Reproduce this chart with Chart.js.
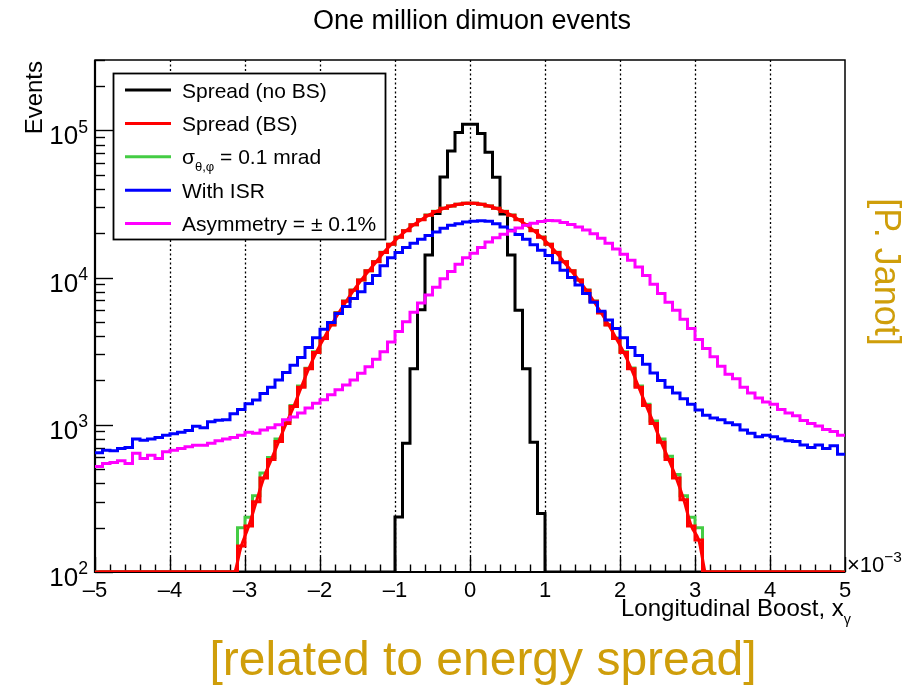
<!DOCTYPE html>
<html><head><meta charset="utf-8">
<script src="https://cdn.jsdelivr.net/npm/chart.js@4"></script>
<style>html,body{margin:0;padding:0;background:#fff;}canvas{display:block;}</style>
</head><body>
<canvas id="c" width="910" height="685"></canvas>
<script>
// ---- categories: histogram bins (low edges), ×10^-3 ----
const binLowEdges = [
 -5,-4.9,-4.8,-4.7,-4.6,-4.5,-4.4,-4.3,-4.2,-4.1,
 -4,-3.9,-3.8,-3.7,-3.6,-3.5,-3.4,-3.3,-3.2,-3.1,
 -3,-2.9,-2.8,-2.7,-2.6,-2.5,-2.4,-2.3,-2.2,-2.1,
 -2,-1.9,-1.8,-1.7,-1.6,-1.5,-1.4,-1.3,-1.2,-1.1,
 -1,-0.9,-0.8,-0.7,-0.6,-0.5,-0.4,-0.3,-0.2,-0.1,
 0,0.1,0.2,0.3,0.4,0.5,0.6,0.7,0.8,0.9,
 1,1.1,1.2,1.3,1.4,1.5,1.6,1.7,1.8,1.9,
 2,2.1,2.2,2.3,2.4,2.5,2.6,2.7,2.8,2.9,
 3,3.1,3.2,3.3,3.4,3.5,3.6,3.7,3.8,3.9,
 4,4.1,4.2,4.3,4.4,4.5,4.6,4.7,4.8,4.9];
const binWidth = 0.1;
const xRange = [-5, 5];
const yRange = [100, 300000];

// ---- series (events per bin) ----
const spreadNoBS = [
 0,0,0,0,0,0,0,0,0,0,
 0,0,0,0,0,0,0,0,0,0,
 0,0,0,0,0,0,0,0,0,0,
 0,0,0,0,0,0,0,0,0,0,
 236,750,2400,6050,14200,27200,48100,72300,96400,110000,
 110000,95000,71000,48000,27000,14200,6000,2400,760,250,
 0,0,0,0,0,0,0,0,0,0,
 0,0,0,0,0,0,0,0,0,0,
 0,0,0,0,0,0,0,0,0,0,
 0,0,0,0,0,0,0,0,0,0];
const spreadBS = [
 0,0,0,0,0,0,0,0,0,0,
 0,0,0,0,0,0,0,0,0,150,
 205,300,435,580,770,1020,1330,1800,2400,3100,
 3850,4750,5750,6900,8200,9600,11100,12800,14800,16800,
 18800,20800,22800,24700,26500,28100,29500,30600,31400,31900,
 31900,31400,30600,29500,28100,26500,24700,22800,20800,18800,
 16800,14800,12800,11100,9600,8200,6900,5750,4750,3850,
 3100,2400,1800,1350,1020,760,580,435,310,205,
 165,0,0,0,0,0,0,0,0,0,
 0,0,0,0,0,0,0,0,0,0];
const angular01 = [
 0,0,0,0,0,0,0,0,0,0,
 0,0,0,0,0,0,0,0,0,200,
 235,330,470,600,800,1050,1350,1830,2420,3130,
 3880,4780,5780,6930,8230,9630,11130,12830,14830,16830,
 18830,20830,22830,24730,26530,28130,29530,30630,31430,31930,
 31930,31430,30630,29530,28130,26530,24730,22830,20830,18830,
 16830,14830,12830,11130,9630,8230,6930,5780,4780,3880,
 3130,2430,1830,1380,1060,800,610,460,330,235,
 200,0,0,0,0,0,0,0,0,0,
 0,0,0,0,0,0,0,0,0,0];
const withISR = [
 645,670,665,690,700,800,785,800,820,850,
 870,890,915,975,955,1050,1075,1080,1190,1270,
 1390,1470,1630,1800,2010,2260,2540,2860,3350,3900,
 4450,4950,5700,6350,7200,8000,9100,10300,12000,13600,
 14800,16000,17100,18200,19300,20400,21600,22600,23200,23800,
 24100,24300,24100,23200,22000,20900,19600,18200,16700,15300,
 14100,12600,11200,10000,8900,7800,6800,5900,5150,4500,
 3900,3350,2950,2580,2250,2000,1800,1640,1500,1380,
 1260,1160,1110,1080,1030,1000,920,875,830,850,
 830,800,780,770,730,700,730,690,720,630];
const asymmetry = [
 520,545,555,570,545,640,590,620,590,655,
 670,690,710,725,725,750,780,800,820,850,
 890,875,920,955,1000,1080,1130,1200,1300,1400,
 1480,1600,1730,1860,2015,2240,2480,2780,3130,3650,
 4300,5000,5800,6700,7600,8600,9800,11000,12300,13600,
 14600,16000,17400,18600,19700,20700,21700,22600,23400,24000,
 24400,24300,23600,22900,22000,21000,19800,18500,17100,15600,
 14400,13100,11800,10300,9000,7800,6800,6000,5200,4500,
 3800,3300,2900,2500,2200,2050,1800,1640,1520,1430,
 1380,1270,1200,1150,1070,1020,980,930,900,850];

const seriesLabels = ['Spread (no BS)', 'Spread (BS)', 'σ_{θ,φ} = 0.1 mrad', 'With ISR', 'Asymmetry = ± 0.1%'];
const xTickValues = [-5,-4,-3,-2,-1,0,1,2,3,4,5];
const yTickPowers = [2,3,4,5];
const titleText = 'One million dimuon events';
const xTitleText = 'Longitudinal Boost, x_{γ}';
const yTitleText = 'Events';
const xExponentText = '×10^{−3}';
const noteRight = '[P. Janot]';
const noteBottom = '[related to energy spread]';

const FONT = '"Liberation Sans", Arial, Helvetica, sans-serif';
const GOLD = '#cf9e0a';
const font = (s) => s + 'px ' + FONT;

// histogram as stepped line: point at each low edge + closing point at upper edge
function histPoints(vals){
  const pts = vals.map((v, i) => ({x: binLowEdges[i], y: Math.max(v, yRange[0])}));
  pts.push({x: xRange[1], y: Math.max(vals[vals.length-1], yRange[0])});
  return pts;
}
function centerPoints(vals){
  return vals.map((v, i) => ({x: binLowEdges[i] + binWidth/2, y: Math.max(v, yRange[0])}));
}

function richSegments(t){
  const out = []; const re = /([_^])\{([^}]*)\}/g; let last = 0, m;
  while ((m = re.exec(t))) {
    if (m.index > last) out.push({t: t.slice(last, m.index), k: ''});
    out.push({t: m[2], k: m[1]}); last = re.lastIndex;
  }
  if (last < t.length) out.push({t: t.slice(last), k: ''});
  return out;
}
function drawRich(ctx, text, x, y, size, align, subScale){
  const sc = subScale || 0.65;
  const segs = richSegments(text);
  let total = 0;
  for (const s of segs){ ctx.font = font(s.k ? size*sc : size); total += ctx.measureText(s.t).width; }
  let cx = align === 'right' ? x - total : align === 'center' ? x - total/2 : x;
  ctx.textAlign = 'left'; ctx.textBaseline = 'alphabetic';
  for (const s of segs){
    const sz = s.k ? size*sc : size;
    ctx.font = font(sz);
    const dy = s.k === '_' ? size*0.32 : s.k === '^' ? -size*0.45 : 0;
    ctx.fillText(s.t, cx, y + dy);
    cx += ctx.measureText(s.t).width;
  }
}

const frameAndGrid = {
  id: 'frameAndGrid',
  beforeDatasetsDraw(chart){
    const {ctx, chartArea: a, scales: {x, y}} = chart;
    ctx.save();
    // dotted vertical grid
    ctx.strokeStyle = '#000'; ctx.lineWidth = 1.3; ctx.setLineDash([2, 2.5]);
    for (const v of xTickValues){
      if (v === xRange[0] || v === xRange[1]) continue;
      const px = Math.round(x.getPixelForValue(v)) + 0.5;
      ctx.beginPath(); ctx.moveTo(px, a.top); ctx.lineTo(px, a.bottom); ctx.stroke();
    }
    ctx.setLineDash([]);
    // frame
    ctx.lineWidth = 1.5; ctx.strokeRect(a.left, a.top, a.right - a.left, a.bottom - a.top);
    ctx.lineWidth = 2.2;
    ctx.beginPath(); ctx.moveTo(a.left, a.top); ctx.lineTo(a.left, a.bottom); ctx.lineTo(a.right, a.bottom); ctx.stroke();
    // x ticks (inside, upward)
    ctx.lineWidth = 1.4;
    for (let k = 0; k <= 50; k++){
      const v = xRange[0] + k * 0.2;
      const major = k % 5 === 0;
      const px = Math.round(x.getPixelForValue(v)) + 0.5;
      ctx.beginPath(); ctx.moveTo(px, a.bottom); ctx.lineTo(px, a.bottom - (major ? 15 : 7.5)); ctx.stroke();
    }
    // y ticks (inside, rightward)
    for (let p = yTickPowers[0]; p <= yTickPowers[yTickPowers.length-1]; p++){
      for (let m = 1; m <= 9; m++){
        const v = m * Math.pow(10, p);
        if (v < yRange[0] || v > yRange[1]) continue;
        const py = Math.round(y.getPixelForValue(v)) + 0.5;
        ctx.beginPath(); ctx.moveTo(a.left, py); ctx.lineTo(a.left + (m === 1 ? 18 : 10), py); ctx.stroke();
      }
    }
    ctx.restore();
  },
  afterDatasetsDraw(chart){
    const {ctx, chartArea: a, scales: {y}} = chart;
    ctx.save();
    ctx.fillStyle = '#000';
    // y tick labels 10^n
    for (const p of yTickPowers){
      const py = y.getPixelForValue(Math.pow(10, p));
      drawRich(ctx, '10^{' + p + '}', 88, py + 14, 26, 'right', 0.68);
    }
    // title
    ctx.font = font(27); ctx.textAlign = 'center'; ctx.textBaseline = 'alphabetic';
    ctx.fillText(titleText, 472, 29);
    // x title
    drawRich(ctx, xTitleText, 851, 616, 24, 'right', 0.6);
    // exponent
    drawRich(ctx, xExponentText, 847, 572, 22, 'left', 0.7);
    // y title
    ctx.save(); ctx.translate(42, 61); ctx.rotate(-Math.PI/2);
    ctx.font = font(24); ctx.textAlign = 'right'; ctx.textBaseline = 'alphabetic';
    ctx.fillText(yTitleText, 0, 0); ctx.restore();
    // annotations
    ctx.fillStyle = GOLD;
    ctx.save(); ctx.translate(885, 272); ctx.rotate(Math.PI/2);
    ctx.font = font(36); ctx.textAlign = 'center'; ctx.textBaseline = 'middle';
    ctx.fillText(noteRight, 0, 0); ctx.restore();
    ctx.font = font(48); ctx.textAlign = 'center'; ctx.textBaseline = 'alphabetic';
    ctx.fillText(noteBottom, 483, 675);
    // legend
    const L = {x: 113.5, y: 73.5, w: 272, h: 166};
    ctx.fillStyle = '#fff'; ctx.fillRect(L.x, L.y, L.w, L.h);
    ctx.strokeStyle = '#000'; ctx.lineWidth = 1.8; ctx.strokeRect(L.x, L.y, L.w, L.h);
    const items = chart.data.datasets.filter(d => !d.legendSkip).sort((p, q) => p.legendIndex - q.legendIndex);
    items.forEach((d, i) => {
      const cy = 90 + i * 33.4;
      ctx.strokeStyle = d.borderColor; ctx.lineWidth = 3;
      ctx.beginPath(); ctx.moveTo(125, cy); ctx.lineTo(171, cy); ctx.stroke();
      ctx.fillStyle = '#000';
      drawRich(ctx, d.label, 182, cy + 7.5, 21, 'left', 0.62);
    });
    ctx.restore();
  }
};

function histDataset(label, vals, color, order, legendIndex){
  return {label, data: histPoints(vals), borderColor: color, backgroundColor: color,
    borderWidth: 3, pointRadius: 0, stepped: true, fill: false, order, legendIndex};
}

new Chart(document.getElementById('c'), {
  type: 'line',
  data: {datasets: [
    histDataset(seriesLabels[4], asymmetry, '#ff00ff', 1, 4),
    histDataset(seriesLabels[3], withISR, '#0000ff', 2, 3),
    {label: 'Spread (BS) curve', data: centerPoints(spreadBS), borderColor: '#ff0000', borderWidth: 3,
     pointRadius: 0, cubicInterpolationMode: 'monotone', fill: false, order: 3, legendSkip: true},
    histDataset(seriesLabels[1], spreadBS, '#ff0000', 4, 1),
    histDataset(seriesLabels[2], angular01, '#44cc44', 5, 2),
    histDataset(seriesLabels[0], spreadNoBS, '#000000', 6, 0)
  ]},
  options: {
    responsive: false, animation: false, devicePixelRatio: 1,
    layout: {padding: {top: 60, right: 65, left: 0, bottom: 0}},
    plugins: {legend: {display: false}, title: {display: false}, tooltip: {enabled: false}},
    scales: {
      x: {type: 'linear', min: xRange[0], max: xRange[1],
        afterFit(s){ s.height = 113; },
        grid: {display: false}, border: {display: false},
        afterBuildTicks(s){ s.ticks = xTickValues.map(v => ({value: v})); },
        ticks: {padding: -2, color: '#000', font: {family: FONT, size: 22},
          callback: v => (v < 0 ? '\u2013' + Math.abs(v) : String(v))}},
      y: {type: 'logarithmic', min: yRange[0], max: yRange[1],
        afterFit(s){ s.width = 95; },
        grid: {display: false}, border: {display: false}, ticks: {display: false}}
    }
  },
  plugins: [frameAndGrid]
});
</script>
</body></html>
